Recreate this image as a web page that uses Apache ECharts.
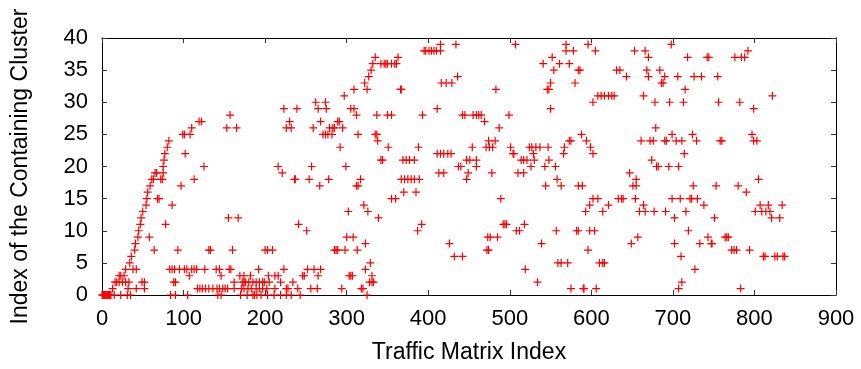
<!DOCTYPE html>
<html>
<head>
<meta charset="utf-8">
<script src="https://cdn.jsdelivr.net/npm/echarts@6/dist/echarts.min.js"></script>
<style>
  html, body { margin: 0; padding: 0; background: #fff; }
  #chart { width: 861px; height: 369px; }
</style>
</head>
<body>
<div id="chart"></div>
<script>
// Cluster assignment of each traffic matrix; one line per cluster.
const matrixIndex = [
  0,1,2,3,4,5,6,7,8,9,10,11,15,23,31,35,84,90,105,142,146,170,178,185,187,190,195,203,211,219,226,232,243,325,
  13,32,42,52,117,120,123,127,131,136,141,144,148,151,154,162,171,174,179,183,189,193,197,202,212,226,228,240,256,264,294,318,320,575,590,591,606,707,783,
  16,18,21,25,29,33,49,52,88,90,162,172,174,176,180,185,189,193,197,199,205,219,234,328,331,333,534,711,
  21,23,27,107,146,169,174,182,204,212,216,246,248,265,303,305,307,331,
  29,38,42,83,86,89,95,101,104,110,113,116,126,140,144,156,158,192,223,252,260,268,323,519,727,
  34,329,559,563,571,610,614,616,
  36,432,442,710,811,813,825,828,835,837,
  40,64,93,131,133,160,200,203,209,285,287,289,298,313,472,474,596,772,775,778,794,
  41,323,426,539,649,702,733,747,748,
  44,58,300,308,473,476,485,657,743,764,766,768,
  45,251,387,508,512,557,582,584,598,604,719,
  47,78,241,392,492,494,496,518,
  48,155,167,339,702,751,821,831,
  50,302,326,593,614,659,666,677,691,716,801,809,814,819,
  54,86,321,598,621,664,738,807,817,834,
  55,68,70,355,360,489,602,608,633,637,639,654,699,709,721,723,730,
  56,370,385,790,
  59,97,267,312,314,544,563,584,589,651,655,725,753,780,
  61,63,72,74,113,236,237,254,278,317,367,371,375,379,383,389,447,558,655,805,
  65,67,75,221,413,419,449,478,510,517,647,
  75,125,216,257,299,437,440,459,526,543,556,680,682,695,707,
  76,342,344,369,373,377,383,447,451,459,514,517,521,530,548,674,
  77,102,411,415,419,424,428,504,505,529,566,602,714,
  80,292,351,388,454,471,475,479,501,524,527,532,537,547,567,599,
  82,338,474,482,573,575,594,661,672,676,690,692,704,711,729,758,760,799,803,
  99,101,108,271,274,277,282,314,335,337,588,699,724,797,
  110,153,165,226,232,259,279,283,285,295,487,679,
  119,122,230,268,289,291,469,
  157,312,337,350,355,393,442,445,455,459,462,465,499,
  223,239,265,275,305,309,411,550,799,
  262,274,602,678,696,713,756,782,
  297,608,612,616,621,625,628,664,822,
  309,325,366,367,483,546,548,715,
  322,416,422,429,550,580,686,688,
  327,436,643,670,690,706,726,735,755,
  330,554,584,586,631,635,668,684,
  332,342,346,348,350,355,359,361,541,561,573,
  335,363,552,670,718,742,744,776,784,788,
  395,397,401,404,407,410,415,569,578,605,653,666,792,
  415,434,507,569,596,698
];

const clusterIndex = [
  0,0,0,0,0,0,0,0,0,0, 0,0,0,0,0,0,0,0,0,0, 0,0,0,0,0,0,0,0,0,0, 0,0,0,0,
  1,1,1,1,1,1,1,1,1,1, 1,1,1,1,1,1,1,1,1,1, 1,1,1,1,1,1,1,1,1,1, 1,1,1,1,1,1,1,1,1,
  2,2,2,2,2,2,2,2,2,2, 2,2,2,2,2,2,2,2,2,2, 2,2,2,2,2,2,2,2,
  3,3,3,3,3,3,3,3,3,3, 3,3,3,3,3,3,3,3,
  4,4,4,4,4,4,4,4,4,4, 4,4,4,4,4,4,4,4,4,4, 4,4,4,4,4,
  5,5,5,5,5,5,5,5,
  6,6,6,6,6,6,6,6,6,6,
  7,7,7,7,7,7,7,7,7,7, 7,7,7,7,7,7,7,7,7,7, 7,
  8,8,8,8,8,8,8,8,8,
  9,9,9,9,9,9,9,9,9,9, 9,9,
  10,10,10,10,10,10,10,10,10,10, 10,
  11,11,11,11,11,11,11,11,
  12,12,12,12,12,12,12,12,
  13,13,13,13,13,13,13,13,13,13, 13,13,13,13,
  14,14,14,14,14,14,14,14,14,14,
  15,15,15,15,15,15,15,15,15,15, 15,15,15,15,15,15,15,
  16,16,16,16,
  17,17,17,17,17,17,17,17,17,17, 17,17,17,17,
  18,18,18,18,18,18,18,18,18,18, 18,18,18,18,18,18,18,18,18,18,
  19,19,19,19,19,19,19,19,19,19, 19,
  20,20,20,20,20,20,20,20,20,20, 20,20,20,20,20,
  21,21,21,21,21,21,21,21,21,21, 21,21,21,21,21,21,
  22,22,22,22,22,22,22,22,22,22, 22,22,22,
  23,23,23,23,23,23,23,23,23,23, 23,23,23,23,23,23,
  24,24,24,24,24,24,24,24,24,24, 24,24,24,24,24,24,24,24,24,
  25,25,25,25,25,25,25,25,25,25, 25,25,25,25,
  26,26,26,26,26,26,26,26,26,26, 26,26,
  27,27,27,27,27,27,27,
  28,28,28,28,28,28,28,28,28,28, 28,28,28,
  29,29,29,29,29,29,29,29,29,
  30,30,30,30,30,30,30,30,
  31,31,31,31,31,31,31,31,31,
  32,32,32,32,32,32,32,32,
  33,33,33,33,33,33,33,33,
  34,34,34,34,34,34,34,34,34,
  35,35,35,35,35,35,35,35,
  36,36,36,36,36,36,36,36,36,36, 36,
  37,37,37,37,37,37,37,37,37,37,
  38,38,38,38,38,38,38,38,38,38, 38,38,38,
  39,39,39,39,39,39
];

const xTicks = { min: 0, max: 900, step: 100 };
const yTicks = { min: 0, max: 40, step: 5 };

const points = matrixIndex.map((m, i) => [m, clusterIndex[i]]);

const FONT = '"Liberation Sans", Arial, Helvetica, sans-serif';
const PLUS = 'path://M3.4,0H4.6V3.4H8V4.6H4.6V8H3.4V4.6H0V3.4H3.4Z';

const frameAxis = {
  axisLine: { show: true, onZero: false, lineStyle: { color: '#000', width: 1 } },
  axisTick: { show: true, inside: true, length: 5, lineStyle: { color: '#333', width: 1 } },
  splitLine: { show: false }
};

const chart = echarts.init(document.getElementById('chart'), null, { renderer: 'canvas' });
chart.setOption({
  animation: false,
  backgroundColor: '#fff',
  grid: { left: 102, right: 25, top: 38, bottom: 72, containLabel: false },
  xAxis: [
    Object.assign({}, frameAxis, {
      type: 'value', position: 'bottom',
      min: xTicks.min, max: xTicks.max, interval: xTicks.step,
      name: 'Traffic Matrix Index', nameLocation: 'middle', nameGap: 46,
      nameTextStyle: { fontFamily: FONT, fontSize: 23, color: '#000' },
      axisLabel: { fontFamily: FONT, fontSize: 22, color: '#000', margin: 13 }
    }),
    Object.assign({}, frameAxis, {
      type: 'value', position: 'top',
      min: xTicks.min, max: xTicks.max, interval: xTicks.step,
      axisLabel: { show: false }
    })
  ],
  yAxis: [
    Object.assign({}, frameAxis, {
      type: 'value', position: 'left',
      min: yTicks.min, max: yTicks.max, interval: yTicks.step,
      name: 'Index of the Containing Cluster', nameLocation: 'middle', nameGap: 70,
      nameTextStyle: { fontFamily: FONT, fontSize: 23, color: '#000' },
      axisLabel: { fontFamily: FONT, fontSize: 22, color: '#000', margin: 14 }
    }),
    Object.assign({}, frameAxis, {
      type: 'value', position: 'right',
      min: yTicks.min, max: yTicks.max, interval: yTicks.step,
      axisLabel: { show: false }
    })
  ],
  series: [{
    type: 'scatter',
    xAxisIndex: 0,
    yAxisIndex: 0,
    data: points,
    symbol: PLUS,
    symbolSize: 8,
    itemStyle: { color: '#ff0000', opacity: 1 },
    clip: false
  }]
});
</script>
</body>
</html>
